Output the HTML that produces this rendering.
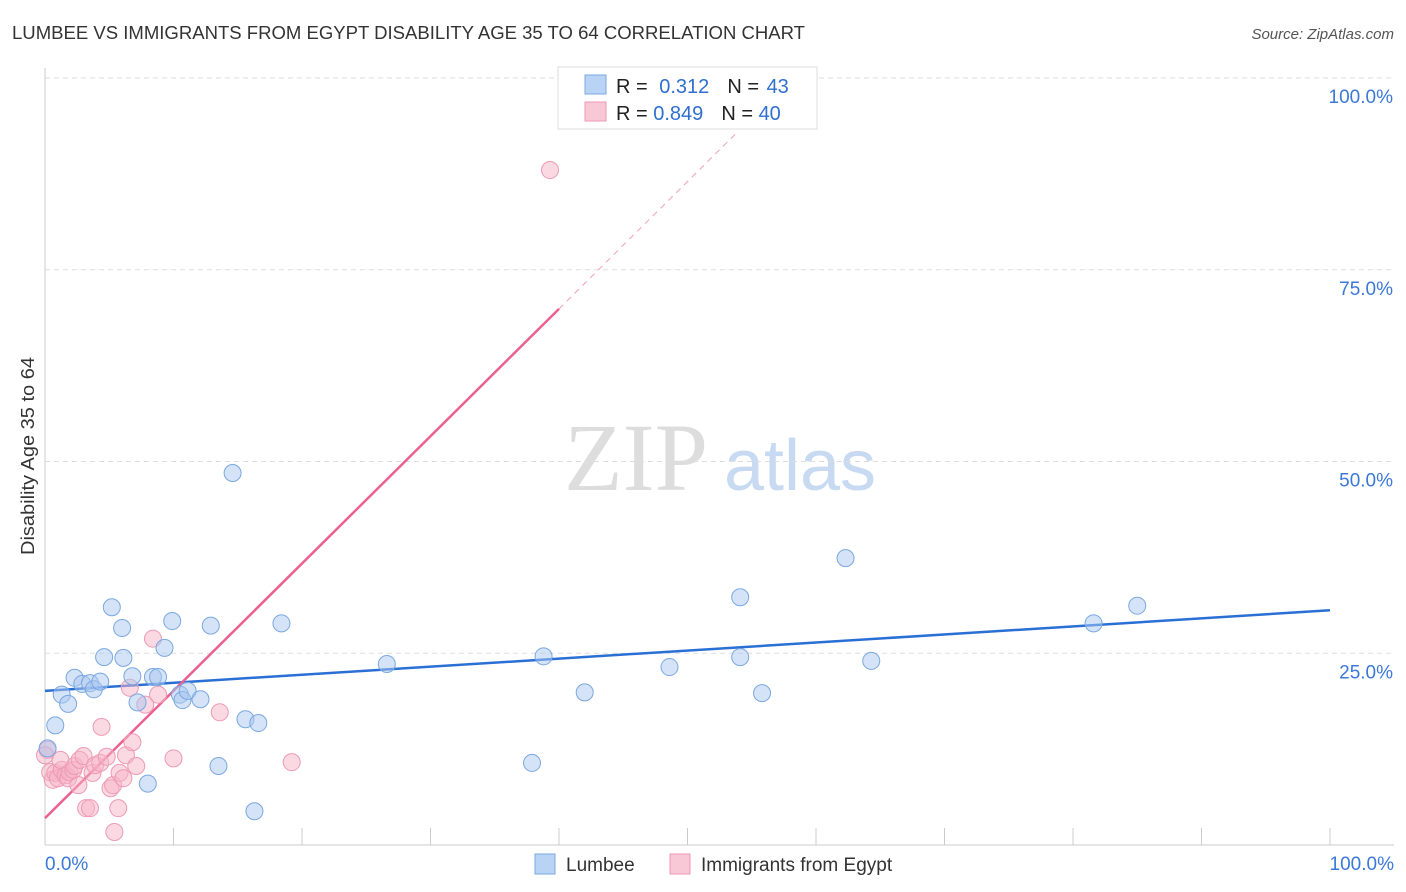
<!DOCTYPE html>
<html><head><meta charset="utf-8"><style>
body{margin:0;background:#fff;font-family:"Liberation Sans",sans-serif;}
svg{display:block}
</style></head><body>
<svg id="chart" width="1406" height="892">
<text x="12" y="39" font-size="18" fill="#333" textLength="793" lengthAdjust="spacingAndGlyphs">LUMBEE VS IMMIGRANTS FROM EGYPT DISABILITY AGE 35 TO 64 CORRELATION CHART</text>
<text x="1394" y="39" font-size="15" fill="#555" font-style="italic" text-anchor="end">Source: ZipAtlas.com</text>
<text x="34" y="456" font-size="18" fill="#333" transform="rotate(-90 34 456)" text-anchor="middle" textLength="198" lengthAdjust="spacingAndGlyphs">Disability Age 35 to 64</text>
<text x="636" y="490" font-size="96" fill="#ddd" font-family="Liberation Serif,serif" text-anchor="middle">ZIP</text>
<text x="800" y="490" font-size="72" fill="#c8daf2" text-anchor="middle">atlas</text>
<g id="grid"></g><g id="ticks"></g><g id="lines"></g><g id="pts"></g>
<g>
<rect x="558" y="67" width="259" height="62" fill="#fff" stroke="#ddd"/>
<rect x="585" y="75" width="21" height="19" fill="#b9d3f5" stroke="#7aa8e0"/>
<rect x="585" y="102" width="21" height="19" fill="#f9c8d6" stroke="#ee9ab5"/>
<text x="616" y="93" font-size="20" fill="#222">R = <tspan fill="#2f6fd0" dx="6">0.312</tspan><tspan fill="#222" dx="18">N = </tspan><tspan fill="#2f6fd0" dx="2">43</tspan></text>
<text x="616" y="120" font-size="20" fill="#222">R = <tspan fill="#2f6fd0">0.849</tspan><tspan fill="#222" dx="18">N = </tspan><tspan fill="#2f6fd0">40</tspan></text>
</g>
<g>
<rect x="535" y="854" width="20" height="20" fill="#b9d3f5" stroke="#7aa8e0"/>
<text x="566" y="871" font-size="19" fill="#333">Lumbee</text>
<rect x="670" y="854" width="20" height="20" fill="#f9c8d6" stroke="#ee9ab5"/>
<text x="701" y="871" font-size="19" fill="#333">Immigrants from Egypt</text>
</g>
</svg>
<script>
const blueX=[0.8,1.3,1.8,2.3,2.9,3.5,3.8,4.3,4.6,5.2,6.0,6.1,6.8,7.2,8.0,8.4,8.8,9.3,9.9,10.5,10.7,11.1,12.1,12.9,13.5,14.6,15.6,16.6,16.3,18.4,26.6,37.9,38.8,42.0,48.6,54.1,54.1,55.8,62.3,64.3,81.6,85.0,0.2];
const blueY=[15.6,19.6,18.4,21.8,21.0,21.1,20.3,21.3,24.5,31.0,28.3,24.4,22.0,18.6,8.0,21.9,21.9,25.7,29.2,19.6,18.9,20.1,19.0,28.6,10.3,48.5,16.4,15.9,4.4,28.9,23.6,10.7,24.6,19.9,23.2,32.3,24.5,19.8,37.4,24.0,28.9,31.2,12.6];
const pinkX=[0.2,0.4,0.6,0.8,1.0,1.3,1.6,1.8,1.9,2.2,2.3,2.6,2.7,3.0,3.2,3.5,3.7,3.9,4.3,4.4,4.8,5.1,5.3,5.4,5.7,5.8,6.1,6.3,6.6,6.8,7.1,7.8,8.4,8.8,10.0,13.6,19.2,39.3,0.0,1.2];
const pinkY=[12.4,9.5,8.5,9.4,8.7,9.8,9.1,8.7,9.5,9.8,10.3,7.8,11.1,11.6,4.8,4.8,9.4,10.4,10.7,15.4,11.5,7.4,7.8,1.7,4.8,9.4,8.7,11.7,20.5,13.4,10.3,18.3,26.9,19.6,11.3,17.3,10.8,88.0,11.7,11.1];
const yTicks=[25,50,75,100];
const xTickVals=[0,10,20,30,40,50,60,70,80,90,100];
const blueFit=[20.1,30.6];
const pinkFit=[3.5,1.66];
const NS='http://www.w3.org/2000/svg';
const X=v=>45+v*12.85, Y=v=>845-v*7.67;
function mk(t,a,p){const e=document.createElementNS(NS,t);for(const k in a)e.setAttribute(k,a[k]);document.getElementById(p).appendChild(e);return e;}
mk('line',{x1:45,y1:68,x2:45,y2:845,stroke:'#ccc'},'grid');
mk('line',{x1:45,y1:845,x2:1394,y2:845,stroke:'#ccc'},'grid');
yTicks.forEach(v=>{
 const g=mk('line',{x1:45,y1:Y(v),x2:1394,y2:Y(v),stroke:'#ddd','stroke-dasharray':'5,4'},'grid');
 
 
 const t=mk('text',{x:1393,y:Y(v)+25,'font-size':19,fill:'#3b78d8','text-anchor':'end'},'ticks');
 t.textContent=v.toFixed(1)+'%';
 
 
});
xTickVals.forEach(v=>{
 const l=mk('line',{x1:X(v),y1:828,x2:X(v),y2:845,stroke:'#ccc'},'ticks');
 
 
});
[[0,'0.0%','start',45],[100,'100.0%','end',1394]].forEach(a=>{
 const t=mk('text',{x:a[3],y:870,'font-size':19,fill:'#3b78d8','text-anchor':a[2]},'ticks');
 t.textContent=a[1];
 
 
});
function addPts(xs,ys,fill,stroke,name){
 xs.forEach((x,i)=>{
  const c=mk('circle',{cx:X(x),cy:Y(ys[i]),r:8.5,fill:fill,'fill-opacity':0.5,stroke:stroke,'stroke-width':1},'pts');
  
  
 });
}
addPts(pinkX,pinkY,'#f6b3c8','#ee9ab5','egypt-point');
addPts(blueX,blueY,'#a9c8f0','#7aa8e0','lumbee-point');
const bl=mk('line',{x1:X(0),y1:Y(blueFit[0]),x2:X(100),y2:Y(blueFit[1]),stroke:'#2a6fd6','stroke-width':2.5},'lines');


const pl=mk('line',{x1:X(0),y1:Y(pinkFit[0]),x2:X(40),y2:Y(pinkFit[0]+pinkFit[1]*40),stroke:'#ec6090','stroke-width':2.5},'lines');


const pd=mk('line',{x1:X(40),y1:Y(pinkFit[0]+pinkFit[1]*40),x2:X(54),y2:Y(pinkFit[0]+pinkFit[1]*54),stroke:'#f0a0b8','stroke-width':1,'stroke-dasharray':'6,5'},'lines');


</script>
</body></html>
